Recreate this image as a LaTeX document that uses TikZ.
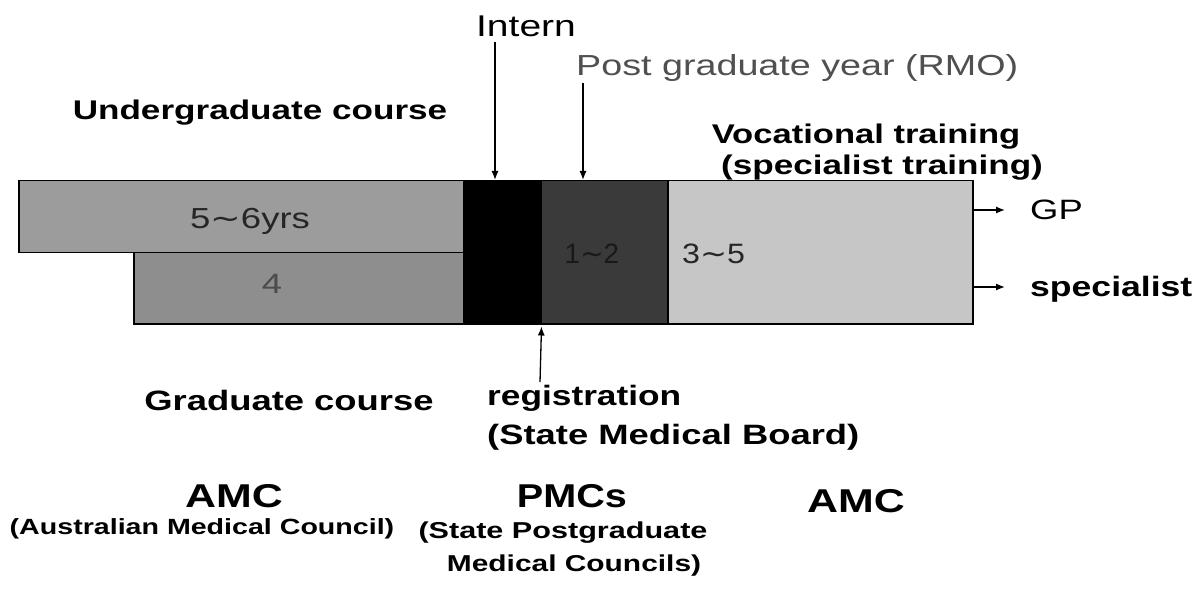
\documentclass[tikz,border=0pt]{standalone}
\usepackage{fontspec}
\setmainfont{Liberation Sans}
\newfontfamily\djv{DejaVu Sans}
\usetikzlibrary{arrows.meta}
\newcommand{\hs}[2][1.3]{\scalebox{#1}[1]{#2}}
\newcommand{\fs}[1]{\fontsize{#1}{#1}\selectfont}
\newcommand{\tld}{{\djv\char"223C}}
\definecolor{ugc}{HTML}{9C9C9C}
\definecolor{gcc}{HTML}{8E8E8E}
\definecolor{pgc}{HTML}{3A3A3A}
\definecolor{vtc}{HTML}{C6C6C6}
\definecolor{pgtext}{HTML}{505050}
\begin{document}
\begin{tikzpicture}[x=1pt,y=-1pt,
  box/.style={draw=black, line width=1.5pt, inner sep=0pt, anchor=north west},
  arr/.style={-{Latex[length=9pt,width=7pt]}, line width=1.3pt},
  txt/.style={inner sep=0pt, text=black}]
\useasboundingbox (0,0) rectangle (1197,596);
\fill[white] (0,0) rectangle (1197,596);

% bars
\node[box, fill=ugc, minimum width=445pt, minimum height=72pt] (ug) at (18,180) {};
\node[box, fill=gcc, minimum width=330pt, minimum height=71pt] (gr) at (133,252) {};
\node[box, fill=black, minimum width=77pt, minimum height=143pt] (in) at (463,180) {};
\node[box, fill=pgc, minimum width=127pt, minimum height=143pt] (pg) at (540,180) {};
\node[box, fill=vtc, minimum width=305pt, minimum height=143pt] (vt) at (667,180) {};

% texts in bars
\node[txt, anchor=base, text=black!85] (t56) at (250,229) {\fs{29}\hs[1.26]{5\tld 6yrs}};
\node[txt, anchor=base, text=black!70] (t4) at (272,293) {\fs{28}\hs{4}};
\node[txt, anchor=base, text=black!90] (t12) at (592,264) {\fs{28}\hs[1.0]{1\tld 2}};
\node[txt, anchor=base west, text=black!85] (t35) at (682,263) {\fs{28}\hs[1.15]{3\tld 5}};

% top labels
\node[txt, anchor=base] (tintern) at (526,37) {\fs{30}\hs{Intern}};
\node[txt, anchor=base west, text=pgtext] (tpg) at (576,76) {\fs{29}\hs{Post graduate year (RMO)}};
\node[txt, anchor=base] (tug) at (260,120) {\fs{27}\bfseries\hs{Undergraduate course}};
\node[txt, anchor=base] (tvt) at (866,144) {\fs{27}\bfseries\hs[1.28]{Vocational training}};
\node[txt, anchor=base] (tst) at (882,175) {\fs{27}\bfseries\hs[1.3]{(specialist training)}};

% right outcomes
\node[txt, anchor=base west] (tgp) at (1030,220) {\fs{28}\hs{GP}};
\node[txt, anchor=base west] (tsp) at (1030,296) {\fs{28}\bfseries\hs[1.27]{specialist}};

% bottom labels
\node[txt, anchor=base] (tgc) at (289,410) {\fs{28}\bfseries\hs{Graduate course}};
\node[txt, anchor=base west] (treg) at (487,405) {\fs{28}\bfseries\hs[1.26]{registration}};
\node[txt, anchor=base west] (tsmb) at (487,444) {\fs{28}\bfseries\hs{(State Medical Board)}};
\node[txt, anchor=base] (amc1) at (234,507) {\fs{33}\bfseries\hs{AMC}};
\node[txt, anchor=base] (amc1b) at (202,534) {\fs{22}\bfseries\hs{(Australian Medical Council)}};
\node[txt, anchor=base] (pmc) at (572,507) {\fs{33}\bfseries\hs[1.2]{PMCs}};
\node[txt, anchor=base] (pmcb) at (563,538) {\fs{23}\bfseries\hs[1.33]{(State Postgraduate}};
\node[txt, anchor=base] (pmcc) at (574,571) {\fs{23}\bfseries\hs[1.3]{Medical Councils)}};
\node[txt, anchor=base west] (amc2) at (807,512) {\fs{33}\bfseries\hs{AMC}};

% arrows
\coordinate (ai) at (495,42);
\draw[arr] (ai) -- (ai |- in.north);
\coordinate (ap) at (583,83);
\draw[arr] (ap) -- (ap |- pg.north);
\coordinate (ar) at (540,382);
\draw[arr] (ar) -- ([yshift=-2pt]in.south east);
\coordinate (agp) at (1005,210);
\draw[arr] (vt.east |- agp) -- (agp);
\coordinate (asp) at (1005,287);
\draw[arr] (vt.east |- asp) -- (asp);
\end{tikzpicture}
\end{document}
